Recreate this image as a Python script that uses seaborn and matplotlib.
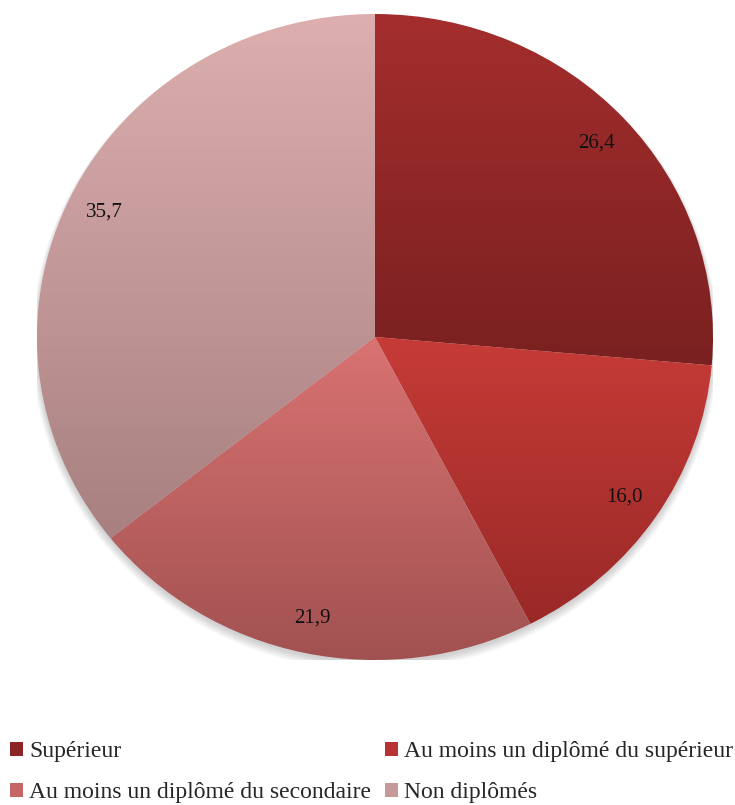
import numpy as np
import matplotlib
matplotlib.use("Agg")
import matplotlib.pyplot as plt
import seaborn as sns
from matplotlib.colors import LinearSegmentedColormap
from matplotlib.patches import Patch, Circle

categories = ["Supérieur", "Au moins un diplômé du supérieur",
              "Au moins un diplômé du secondaire", "Non diplômés"]
values = [26.4, 16.0, 21.9, 35.7]
top_colors = ["#a42e2d", "#c63b37", "#d97372", "#ddafaf"]
bottom_colors = ["#7a2020", "#992927", "#a05050", "#a88080"]
legend_colors = ["#8c2525", "#b83434", "#c46666", "#c69a9a"]

sns.set_theme(style="white")
plt.rcParams["font.family"] = ["Liberation Serif", "DejaVu Serif"]

fig = plt.figure(figsize=(7.35, 8.05), dpi=100)
ax = fig.add_axes([37 / 735, 145 / 805, 676 / 735, 646 / 805])

# soft shadow
for k in range(6):
    ax.add_patch(Circle((0.0, -0.008 - 0.002 * k), 1.0 + 0.003 * k,
                        facecolor="black", edgecolor="none",
                        alpha=0.03, zorder=0))

wedges, texts, autotexts = ax.pie(
    values, startangle=90, counterclock=False, radius=1,
    colors=legend_colors,
    autopct=lambda p: f"{p:.1f}".replace(".", ","),
    pctdistance=0.89,
    textprops=dict(fontsize=15, color="#111111"),
    wedgeprops=dict(linewidth=0),
)

grad = np.linspace(0, 1, 256).reshape(-1, 1)
for w, tc, bc in zip(wedges, top_colors, bottom_colors):
    verts = w.get_path().vertices
    ymin, ymax = verts[:, 1].min(), verts[:, 1].max()
    xmin, xmax = verts[:, 0].min(), verts[:, 0].max()
    cmap = LinearSegmentedColormap.from_list("g", [bc, tc])
    im = ax.imshow(grad, cmap=cmap, origin="lower", aspect="auto",
                   extent=(xmin, xmax, ymin, ymax), zorder=1,
                   interpolation="bilinear")
    im.set_clip_path(w)
    w.set_facecolor("none")
    w.set_edgecolor("none")
for t in autotexts:
    t.set_zorder(5)

ax.set_xlim(-1, 1)
ax.set_ylim(-1, 1)
ax.set_aspect("auto")
ax.axis("off")

order = [0, 2, 1, 3]
handles = [Patch(facecolor=legend_colors[i], edgecolor="none") for i in order]
labels = [categories[i] for i in order]
fig.legend(handles, labels, ncol=2, loc="upper left",
           bbox_to_anchor=(10 / 735, 1 - 741 / 805),
           frameon=False, fontsize=17, handlelength=0.55, handleheight=0.55,
           handletextpad=0.25, columnspacing=0.6, labelspacing=0.85,
           borderaxespad=0, borderpad=0)

fig.savefig("out.png", dpi=100)
